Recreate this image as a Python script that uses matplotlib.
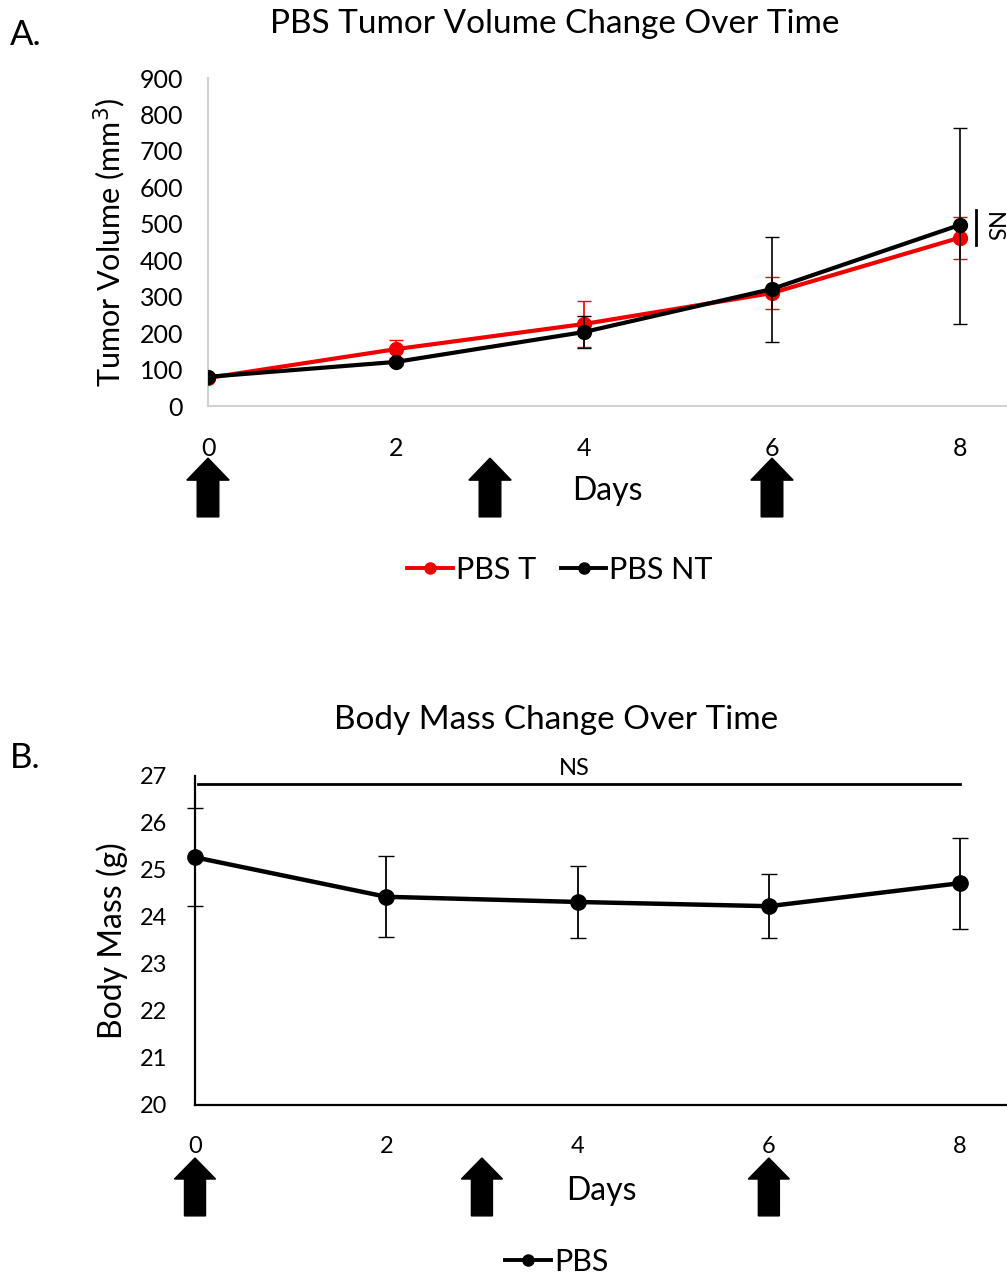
import matplotlib
matplotlib.use("Agg")
import matplotlib.pyplot as plt
from matplotlib.lines import Line2D
from matplotlib.patches import FancyArrow
from matplotlib.transforms import blended_transform_factory

plt.rcParams["font.family"] = ["Lato", "DejaVu Sans"]

# ---- data ----
days = [0, 2, 4, 6, 8]
treatment_days = [0, 3, 6]

pbs_t = [77, 156, 225, 310, 462]
pbs_t_err_lo = [5, 25, 62, 45, 60]
pbs_t_err_hi = [5, 25, 62, 45, 57]

pbs_nt = [80, 121, 203, 321, 497]
pbs_nt_err_lo = [5, 8, 45, 145, 272]
pbs_nt_err_hi = [5, 8, 45, 143, 267]

mass = [25.27, 24.43, 24.32, 24.23, 24.72]
mass_err_lo = [1.04, 0.86, 0.77, 0.68, 0.98]
mass_err_hi = [1.05, 0.87, 0.76, 0.68, 0.96]

RED = "#ee0000"
W, H = 1007, 1282


def add_arrows(ax, y_top, y_bot, shaft_w, head_w, head_len):
    tr = blended_transform_factory(ax.transData, ax.transAxes)
    for d in treatment_days:
        ar = FancyArrow(d, y_bot, 0, y_top - y_bot, width=shaft_w,
                        head_width=head_w, head_length=head_len,
                        length_includes_head=True, color="black",
                        transform=tr, clip_on=False)
        ax.add_patch(ar)


def legend_handle(color, label):
    return Line2D([], [], color=color, marker="o", ms=8, lw=2.8, label=label)


fig = plt.figure(figsize=(W / 100, H / 100), dpi=100)

# ---- panel A ----
ax1 = fig.add_axes([208 / W, 1 - 406 / H, 799 / W, 328 / H])
ax1.errorbar(days, pbs_t, yerr=[pbs_t_err_lo, pbs_t_err_hi], color=RED,
             marker="o", ms=10, lw=3, capsize=5, elinewidth=1.2,
             ecolor=RED, zorder=3)
ax1.errorbar(days, pbs_nt, yerr=[pbs_nt_err_lo, pbs_nt_err_hi], color="black",
             marker="o", ms=10, lw=3, capsize=5, elinewidth=1.2,
             ecolor="black", zorder=4)
ax1.set_xlim(0, 8.5)
ax1.set_ylim(0, 900)
ax1.set_yticks(range(0, 901, 100))
ax1.set_xticks(days)
ax1.tick_params(length=0, labelsize=18)
ax1.tick_params(axis="x", pad=22)
ax1.tick_params(axis="y", pad=18)
for s in ["top", "right"]:
    ax1.spines[s].set_visible(False)
for s in ["left", "bottom"]:
    ax1.spines[s].set_color("#d0d0d0")
    ax1.spines[s].set_linewidth(1.5)
ax1.set_ylabel("Tumor Volume (mm$^3$)", fontsize=22)
ax1.yaxis.set_label_coords((128 - 208) / 799, 0.5)
fig.text(555 / W, 1 - 24 / H, "PBS Tumor Volume Change Over Time",
         ha="center", va="center", fontsize=24)
ax1.text(0.5, -0.26, "Days", transform=ax1.transAxes, ha="center",
         va="center", fontsize=23)
ax1.plot([8.17, 8.17], [442, 538], color="black", lw=2, clip_on=False)
ax1.text(8.34, 490, "NS", rotation=-90, ha="center", va="center", fontsize=17)
add_arrows(ax1, -0.159, -0.338, 0.23, 0.45, 0.067)
ax1.legend(handles=[legend_handle(RED, "PBS T"), legend_handle("black", "PBS NT")],
           loc="center", bbox_to_anchor=((560 - 208) / 799, (406 - 570) / 328),
           ncol=2, frameon=False, fontsize=22, handlelength=1.5,
           handletextpad=0.1, columnspacing=0.8)
fig.text(10 / W, 1 - 35 / H, "A.", fontsize=25, va="center")

# ---- panel B ----
ax2 = fig.add_axes([195 / W, 1 - 1105 / H, 812 / W, 329 / H])
ax2.errorbar(days, mass, yerr=[mass_err_lo, mass_err_hi], color="black",
             marker="o", ms=11, lw=3.2, capsize=6, elinewidth=1.3,
             ecolor="black", clip_on=False, zorder=4)
ax2.set_xlim(0, 8.49)
ax2.set_ylim(20, 27)
ax2.set_yticks(range(20, 28))
ax2.set_xticks(days)
ax2.tick_params(length=0, labelsize=17)
ax2.tick_params(axis="x", pad=22)
ax2.tick_params(axis="y", pad=20)
for s in ["top", "right"]:
    ax2.spines[s].set_visible(False)
for s in ["left", "bottom"]:
    ax2.spines[s].set_color("black")
    ax2.spines[s].set_linewidth(1.6)
ax2.set_ylabel("Body Mass (g)", fontsize=23)
ax2.yaxis.set_label_coords((128 - 195) / 812, 0.5)
fig.text(556 / W, 1 - 720 / H, "Body Mass Change Over Time",
         ha="center", va="center", fontsize=24)
ax2.text(0.5, -0.26, "Days", transform=ax2.transAxes, ha="center",
         va="center", fontsize=23)
ax2.plot([0.03, 8.0], [26.83, 26.83], color="black", lw=2, clip_on=False)
ax2.text(3.97, 27.15, "NS", ha="center", va="center", fontsize=17)
add_arrows(ax2, -0.161, -0.337, 0.22, 0.43, 0.064)
ax2.legend(handles=[legend_handle("black", "PBS")], loc="center",
           bbox_to_anchor=((557 - 195) / 812, (1105 - 1262) / 329),
           frameon=False, fontsize=22, handlelength=1.5, handletextpad=0.1)
fig.text(10 / W, 1 - 758 / H, "B.", fontsize=25, va="center")

fig.savefig("out.png", dpi=100, facecolor="white")
